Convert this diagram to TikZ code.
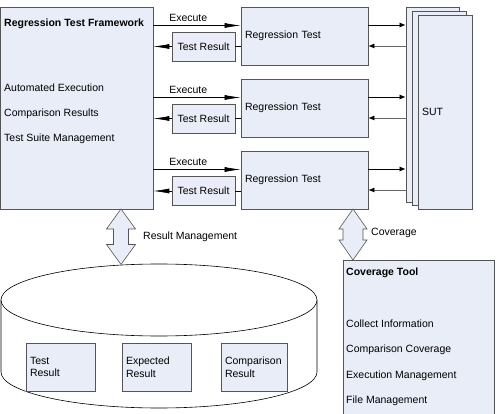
\documentclass[tikz,border=0pt]{standalone}
\usepackage{fontspec}
\setmainfont{Liberation Sans}
\usetikzlibrary{arrows.meta,positioning,calc}
\definecolor{boxfill}{RGB}{232,237,247}
\definecolor{boxline}{RGB}{85,85,85}
\tikzset{
  box/.style={draw=boxline, fill=boxfill, line width=0.8pt, inner sep=0pt},
  rtbox/.style={box, minimum height=58pt, text width=119pt, inner xsep=4pt, align=left},
  trbox/.style={box, minimum width=63pt, minimum height=29pt},
  resbox/.style={box, minimum height=48pt, inner xsep=4pt, align=left},
  sutpage/.style={box},
  lbl/.style={anchor=west, inner sep=0pt},
  exec/.style={draw=black, line width=0.6pt, -{Latex[length=16pt,width=5pt]}},
  sutarrow/.style={draw=black!60, line width=0.7pt, -{Latex[length=6pt,width=5pt,black]}},
  blockarrow/.style={draw=boxline, fill=boxfill, line width=0.6pt, line join=miter}
}
% vertical double block arrow: x, top, bottom, head half width, shaft half width, head length
\newcommand\dblarrow[7][]{%
  \draw[blockarrow,#1] (#2,#3) -- ({#2+#5},{#3+#7}) -- ({#2+#6},{#3+#7}) -- ({#2+#6},{#4-#7})
    -- ({#2+#5},{#4-#7}) -- (#2,#4) -- ({#2-#5},{#4-#7}) -- ({#2-#6},{#4-#7})
    -- ({#2-#6},{#3+#7}) -- ({#2-#5},{#3+#7}) -- cycle;}
\begin{document}
\begin{tikzpicture}[x=1pt, y=-1pt, font=\fontsize{10.5}{12.6}\selectfont]
  \useasboundingbox (0,0) rectangle (498,414);
  \clip (0,0) rectangle (498,414);
  %% framework
  \node[box, minimum width=152.5pt, minimum height=202pt] (fw) at (76.75,108) {};
  \node[lbl, font=\fontsize{10.5}{12.6}\selectfont\bfseries] (fwtitle) at (4,24) {Regression Test Framework};
  \node[lbl] (fwauto) at (4,88) {Automated Execution};
  \node[lbl] (fwcmp) at (4,114) {Comparison Results};
  \node[lbl] (fwsuite) at (4,139) {Test Suite Management};
  %% regression tests
  \node[rtbox] (rt1) at (304.5,36) {Regression Test};
  \node[rtbox] (rt2) at (304.5,108) {Regression Test};
  \node[rtbox] (rt3) at (304.5,180) {Regression Test};
  \node[trbox] (tr1) at (203.5,46.5) {Test Result};
  \node[trbox] (tr2) at (203.5,118.5) {Test Result};
  \node[trbox] (tr3) at (203.5,191) {Test Result};
  %% SUT
  \node[sutpage, minimum width=53pt, minimum height=195pt] (sutA) at (432.5,104.5) {};
  \node[sutpage, minimum width=54pt, minimum height=194pt] (sutB) at (439,108) {};
  \node[sutpage, minimum height=194pt, text width=46pt, inner xsep=4pt, align=left] (sutC) at (445,112) {SUT};
  %% Flows
  \foreach \i in {1,2,3} {
    \draw[exec] ([yshift=10.5pt]rt\i.west -| fw.east) -- node[above, pos=0.4, inner sep=3.5pt] {Execute} ([yshift=10.5pt]rt\i.west);
    \draw[exec] (tr\i.west) -- (tr\i.west -| fw.east);
    \draw[line width=0.6pt] (tr\i.east) -- (tr\i.east -| rt\i.west);
    \draw[sutarrow, draw=black] ([yshift=11pt]rt\i.east) -- ([yshift=11pt]rt\i.east -| sutA.west);
    \draw[sutarrow] ([yshift=-10pt]rt\i.east -| sutA.west) -- ([yshift=-10pt]rt\i.east);
  }
  %% result database
  \draw[line width=0.6pt, fill=white] (1,300) -- (1,372) arc[start angle=180, end angle=360, x radius=158pt, y radius=36pt] -- (317,300);
  \draw[line width=0.6pt, fill=white] (159,300) ellipse[x radius=158pt, y radius=36pt];
  \node[resbox, text width=61pt] (dbtest) at (60.5,367) {Test\\Result};
  \node[resbox, text width=61pt] (dbexp) at (156.5,367) {Expected\\Result};
  \node[resbox, text width=58pt] (dbcmp) at (254,367) {Comparison\\Result};
  \dblarrow{121}{209}{264.5}{14.5}{7.5}{20}
  \node[lbl] (reslbl) at (143,237) {Result Management};
  %% coverage
  \node[box, minimum width=151pt, minimum height=165pt, anchor=north west] (covtool) at (343,260) {};
  \dblarrow{353}{209}{260}{14}{10}{20}
  \node[lbl] (covlbl) at (371,233) {Coverage};
  \node[lbl, font=\fontsize{10.5}{12.6}\selectfont\bfseries] (covtitle) at (346,273) {Coverage Tool};
  \node[lbl] (covcollect) at (346,324) {Collect Information};
  \node[lbl] (covcmp) at (346,350) {Comparison Coverage};
  \node[lbl] (covexec) at (346,376) {Execution Management};
  \node[lbl] (covfile) at (346,401) {File Management};
\end{tikzpicture}
\end{document}
